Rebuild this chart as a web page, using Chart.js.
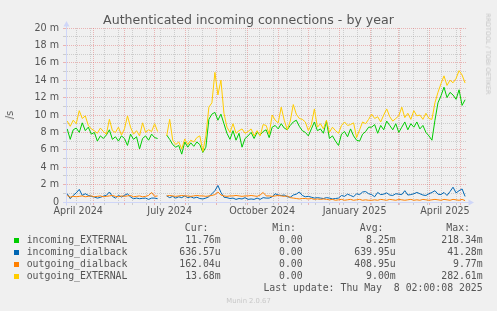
<!DOCTYPE html>
<html>
<head>
<meta charset="utf-8">
<script src="https://cdn.jsdelivr.net/npm/chart.js@4/dist/chart.umd.min.js"></script>
<style>
html,body{margin:0;padding:0;background:#f0f0f0;width:497px;height:311px;overflow:hidden;}
#wrap{position:relative;width:497px;height:311px;}
#c{position:absolute;left:0;top:0;}
.t{position:absolute;white-space:pre;font-family:"DejaVu Sans";color:#555;}
.m{position:absolute;white-space:pre;font-family:"DejaVu Sans Mono";font-size:9.85px;line-height:12px;color:#555;}
.sw{position:absolute;width:5px;height:5px;}
</style>
</head>
<body>
<div id="wrap">
<canvas id="c" width="497" height="311"></canvas>
<div class="t" style="left:0;width:497px;text-align:center;top:12px;font-size:12.6px;line-height:15px;">Authenticated incoming connections - by year</div>
<div class="t" style="left:10px;top:115px;font-size:9.7px;line-height:12px;transform:translate(-50%,-50%) rotate(-90deg);">/s</div>
<div class="t" style="left:488px;top:54px;font-size:6.3px;line-height:8px;color:#c4c4c4;transform:translate(-50%,-50%) rotate(90deg);">RRDTOOL / TOBI OETIKER</div>
<div class="t" style="left:0;width:497px;text-align:center;top:296.5px;font-size:6.8px;line-height:8px;color:#c8c8c8;">Munin 2.0.67</div>
<div id="legend"></div>
</div>
<script>
// ---- x positions: days since 1 April 2024 (one sample every 3 days) ----
const firstDay = 4, stepDays = 3, lastDay = 400;
const days = [];
for (let d = firstDay; d <= lastDay; d += stepDays) days.push(d);

// ---- series values (milli-connections per second) ----
const incomingExternal = [
  8.4,7.2,8.3,8.5,8.0,9.1,8.2,8.6,7.8,8.0,7.0,7.6,7.3,7.7,8.3,7.2,7.5,7.0,7.6,7.3,6.5,7.8,7.2,7.5,6.1,7.3,7.6,7.1,7.8,7.4,7.3,
  null,null,
  7.7,7.2,6.6,6.3,6.5,5.5,6.9,6.3,6.8,6.4,6.9,6.6,5.7,6.3,9.5,10.1,10.3,9.4,10.1,9.0,7.9,7.2,8.2,7.1,7.9,6.3,7.3,7.6,8.0,7.3,8.0,7.7,8.1,8.3,
  7.4,8.6,8.8,8.4,9.0,8.5,8.3,8.8,9.2,9.4,8.7,8.2,8.0,7.6,8.4,9.2,8.2,8.4,7.9,9.3,7.3,7.6,7.0,6.5,7.8,8.1,7.5,8.4,7.6,7.1,7.0,7.8,8.1,8.6,
  8.6,8.9,7.9,8.8,8.3,9.3,8.8,8.3,9.0,8.0,8.6,9.2,8.3,9.0,8.6,9.2,8.4,8.8,8.0,7.6,7.1,9.4,11.4,12.2,13.2,12.0,12.6,12.3,11.8,12.9,11.1,11.76
];
const incomingDialback = [
  0.95,0.38,0.76,1.05,1.45,0.76,0.95,0.76,0.65,0.57,0.45,0.53,0.68,0.76,1.15,0.65,0.45,0.76,0.57,0.76,0.95,0.57,0.38,0.45,0.38,0.42,0.45,0.3,0.45,0.45,0.38,
  null,null,
  0.7,0.5,0.65,0.45,0.6,0.5,0.7,0.5,0.6,0.45,0.55,0.4,0.35,0.45,0.6,0.95,1.3,1.9,1.1,0.55,0.5,0.4,0.45,0.3,0.4,0.35,0.5,0.3,0.35,0.3,0.45,0.3,0.5,0.45,
  0.45,0.6,0.95,0.8,0.75,0.8,0.6,0.55,0.8,0.9,1.15,0.75,0.6,0.65,0.55,0.45,0.5,0.45,0.4,0.5,0.45,0.35,0.4,0.45,0.75,0.65,0.9,0.75,0.6,0.95,0.85,1.15,1.2,0.95,
  0.85,0.6,1.1,0.85,0.9,1.05,0.8,0.75,0.95,0.9,0.85,1.3,0.8,0.85,0.95,1.1,0.95,0.8,0.75,0.95,1.1,1.3,0.9,0.85,1.1,0.75,1.2,1.7,1.05,1.3,1.5,0.64
];
const outgoingDialback = [
  0.75,0.55,0.65,0.6,0.65,0.7,0.6,0.65,0.7,0.6,0.65,0.7,0.6,0.65,0.7,0.75,0.65,0.6,0.7,0.65,0.7,0.75,0.6,0.65,0.7,0.6,0.65,0.75,1.1,0.65,0.7,
  null,null,
  0.7,0.75,0.7,0.65,0.7,0.75,0.7,0.7,0.65,0.7,0.75,0.7,0.7,0.65,0.7,0.75,0.85,1.15,0.8,0.7,0.65,0.7,0.7,0.75,0.7,0.65,0.7,0.7,0.75,0.7,0.65,0.8,1.1,0.7,
  0.7,0.65,0.7,0.75,0.7,0.65,0.7,0.5,0.45,0.4,0.35,0.4,0.4,0.35,0.4,0.3,0.35,0.3,0.35,0.3,0.25,0.3,0.2,0.25,0.3,0.2,0.25,0.3,0.2,0.25,0.3,0.2,0.25,0.2,
  0.2,0.25,0.2,0.3,0.25,0.2,0.3,0.25,0.2,0.3,0.25,0.2,0.25,0.3,0.2,0.25,0.2,0.3,0.25,0.2,0.25,0.3,0.25,0.2,0.3,0.25,0.2,0.3,0.25,0.2,0.3,0.16
];
const outgoingExternal = [
  9.3,8.7,9.4,9.0,10.5,9.6,9.9,8.8,8.4,8.2,7.9,8.5,8.1,7.8,9.5,8.2,8.0,8.6,7.7,8.4,9.9,8.6,7.8,8.2,7.6,9.1,8.0,8.3,8.1,9.0,8.1,
  null,null,
  7.6,9.5,7.1,6.6,6.9,6.1,7.25,6.6,7.1,6.9,7.4,7.6,5.8,7.6,10.9,11.4,14.9,12.3,14.0,10.2,8.6,8.0,9.0,7.9,8.2,8.4,7.9,8.1,8.4,7.6,8.2,7.6,8.9,8.8,
  7.8,10.0,9.4,9.1,10.9,9.4,8.3,9.3,11.2,10.1,9.6,9.5,9.2,8.2,8.9,10.7,8.6,9.0,8.4,9.4,8.0,8.6,8.2,7.9,8.8,9.2,8.8,8.9,9.1,7.4,8.3,9.2,9.0,9.5,
  10.1,9.6,9.8,9.2,10.0,10.7,9.8,9.3,9.6,9.9,10.9,9.7,10.2,9.5,10.5,9.9,10.0,9.5,10.2,9.6,9.5,11.4,12.6,13.6,14.5,13.4,14.0,13.7,14.2,15.1,14.6,13.68
];

// ---- axis ticks ----
const xLabelText = ['April 2024','July 2024','October 2024','January 2025','April 2025'];
const xLabelDays = [15, 106, 198, 290, 380];
const monthStartDays = [30,61,91,122,153,183,214,244,275,306,334,365,395];
const minorGridDays = [13,27,41,55,69,83,97,111,125,139,167,181,195,209,223,237,251,265,279,293,307,321,335,349,363,377,391];
const yTickValues = [0,1,2,3,4,5,6,7,8,9,10,11,12,13,14,15,16,17,18,19,20];
const yTickLabels = ['0','','2 m','','4 m','','6 m','','8 m','','10 m','','12 m','','14 m','','16 m','','18 m','','20 m'];

// ---- legend ----
const seriesNames = ['incoming_EXTERNAL','incoming_dialback','outgoing_dialback','outgoing_EXTERNAL'];
const seriesColors = ['#00CC00','#0066B3','#FF8000','#FFCC00'];
const curValues = ['11.76m','636.57u','162.04u','13.68m'];
const minValues = ['0.00','0.00','0.00','0.00'];
const avgValues = ['8.25m','639.95u','408.95u','9.00m'];
const maxValues = ['218.34m','41.28m','9.77m','282.61m'];
const lastUpdate = 'Last update: Thu May  8 02:00:08 2025';

const MAJOR = 'rgba(225,95,95,0.42)';
const MINOR = 'rgba(150,150,150,0.4)';
const AXIS = '#CFD6F8';

const xTickKinds = {};
minorGridDays.forEach(d => xTickKinds[d] = 'minor');
monthStartDays.forEach(d => xTickKinds[d] = 'major');
xLabelDays.forEach((d,i) => xTickKinds[d] = 'label' + i);
const xTickValues = Object.keys(xTickKinds).map(Number).sort((a,b)=>a-b);

const pts = arr => arr.map((v,i) => ({x: days[i], y: v}));
const base = {borderWidth:1, pointRadius:0, pointHoverRadius:0, tension:0, fill:false, spanGaps:false};

const axisArrows = {
  id: 'axisArrows',
  afterDraw(chart) {
    const {ctx, chartArea: a} = chart;
    ctx.save();
    ctx.strokeStyle = AXIS; ctx.fillStyle = AXIS; ctx.lineWidth = 1;
    const lx = a.left + 0.5, by = a.bottom + 0.5;
    ctx.beginPath();
    ctx.moveTo(lx, by + 3); ctx.lineTo(lx, a.top - 3);
    ctx.moveTo(a.left - 3, by); ctx.lineTo(a.right + 4, by);
    ctx.stroke();
    ctx.beginPath();
    ctx.moveTo(lx, a.top - 7); ctx.lineTo(lx - 3, a.top - 1.5); ctx.lineTo(lx + 3, a.top - 1.5); ctx.closePath(); ctx.fill();
    ctx.beginPath();
    ctx.moveTo(a.right + 8, by); ctx.lineTo(a.right + 2.5, by - 3); ctx.lineTo(a.right + 2.5, by + 3); ctx.closePath(); ctx.fill();
    ctx.restore();
  }
};

new Chart(document.getElementById('c'), {
  type: 'line',
  data: {
    datasets: [
      Object.assign({label: seriesNames[0], data: pts(incomingExternal), borderColor: seriesColors[0], order: 4}, base),
      Object.assign({label: seriesNames[1], data: pts(incomingDialback), borderColor: seriesColors[1], order: 3}, base),
      Object.assign({label: seriesNames[2], data: pts(outgoingDialback), borderColor: seriesColors[2], order: 2}, base),
      Object.assign({label: seriesNames[3], data: pts(outgoingExternal), borderColor: seriesColors[3], order: 1}, base)
    ]
  },
  options: {
    responsive: false,
    animation: false,
    devicePixelRatio: 1,
    events: [],
    layout: {padding: {left: 0, right: 31, top: 28, bottom: 87}},
    plugins: {legend: {display: false}, title: {display: false}, tooltip: {enabled: false}},
    scales: {
      x: {
        type: 'linear', min: 2.8, max: 400.9, bounds: 'data',
        afterBuildTicks: s => { s.ticks = xTickValues.map(v => ({value: v})); },
        afterFit: s => { s.height = 22; },
        grid: {
          color: c => { const k = c.tick ? xTickKinds[c.tick.value] : ''; return k === 'major' ? MAJOR : (k === 'minor' ? MINOR : 'rgba(0,0,0,0)'); },
          lineWidth: 1, tickLength: 3, drawTicks: true
        },
        border: {display: true, color: AXIS, dash: [1,1]},
        ticks: {
          autoSkip: false, maxRotation: 0, minRotation: 0, padding: 1, color: '#555',
          font: {family: 'DejaVu Sans', size: 9.6},
          callback: v => { const i = xLabelDays.indexOf(v); return i >= 0 ? xLabelText[i] : ''; }
        }
      },
      y: {
        type: 'linear', min: 0, max: 20, bounds: 'data',
        afterBuildTicks: s => { s.ticks = yTickValues.map(v => ({value: v})); },
        afterFit: s => { s.width = 66; },
        grid: {
          color: c => (c.tick && c.tick.value % 2 === 0) ? MAJOR : MINOR,
          lineWidth: 1, tickLength: 3, drawTicks: true
        },
        border: {display: true, color: AXIS, dash: [1,1]},
        ticks: {
          autoSkip: false, padding: 4, color: '#555',
          font: {family: 'DejaVu Sans', size: 9.6},
          callback: v => yTickLabels[yTickValues.indexOf(v)]
        }
      }
    }
  },
  plugins: [axisArrows]
});

// ---- HTML legend ----
const lg = document.getElementById('legend');
function txt(s, right, top, left) {
  const e = document.createElement('div');
  e.className = 'm';
  e.textContent = s;
  e.style.top = top + 'px';
  if (left !== undefined) e.style.left = left + 'px';
  else { e.style.right = (497 - right) + 'px'; e.style.textAlign = 'right'; }
  lg.appendChild(e);
}
const headTop = 221.9, rowH = 12;
txt('Cur:', 208.5, headTop); txt('Min:', 296, headTop); txt('Avg:', 383.5, headTop); txt('Max:', 470, headTop);
seriesNames.forEach((n, i) => {
  const top = headTop + rowH * (i + 1);
  const sw = document.createElement('div');
  sw.className = 'sw'; sw.style.left = '14px'; sw.style.top = (top + 3.9) + 'px'; sw.style.background = seriesColors[i];
  lg.appendChild(sw);
  txt(n, 0, top, 26.7);
  txt(curValues[i], 220.7, top);
  txt(minValues[i], 302.7, top);
  txt(avgValues[i], 395.7, top);
  txt(maxValues[i], 482.7, top);
});
txt(lastUpdate, 482.7, headTop + rowH * 5);
</script>
</body>
</html>
